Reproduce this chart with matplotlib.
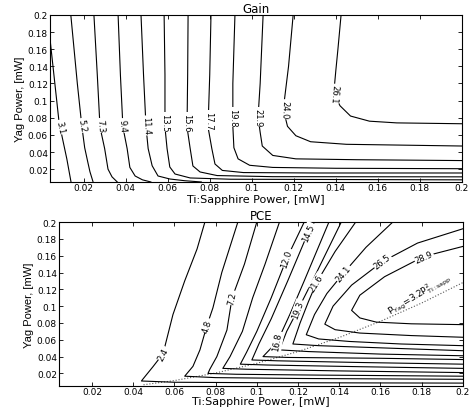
import numpy as np
import matplotlib.pyplot as plt

plt.rcParams['font.family'] = ['DejaVu Sans']

x_ticks = [0.02, 0.04, 0.06, 0.08, 0.1, 0.12, 0.14, 0.16, 0.18, 0.2]
y_ticks = [0.02, 0.04, 0.06, 0.08, 0.1, 0.12, 0.14, 0.16, 0.18, 0.2]
x_tick_labels = ['0.02', '0.04', '0.06', '0.08', '0.1', '0.12', '0.14', '0.16', '0.18', '0.2']
y_tick_labels = ['0.02', '0.04', '0.06', '0.08', '0.1', '0.12', '0.14', '0.16', '0.18', '0.2']

# Gain contour lines (x = Ti:Sapphire power, y = Yag power)
gain_levels = ['3.1', '5.2', '7.3', '9.4', '11.4', '13.5', '15.6', '17.7', '19.8', '21.9', '24.0', '26.1']
gain_x = [
    [0.004, 0.0083, 0.010, 0.012, 0.014],
    [0.0139, 0.017, 0.0192, 0.0205, 0.022, 0.023, 0.0245],
    [0.0249, 0.0265, 0.0278, 0.030, 0.0316, 0.0335, 0.036],
    [0.0364, 0.0375, 0.0387, 0.0407, 0.042, 0.0445, 0.048, 0.052],
    [0.0473, 0.0485, 0.0497, 0.0507, 0.0526, 0.0554, 0.061, 0.068, 0.076],
    [0.0583, 0.0587, 0.0587, 0.0597, 0.061, 0.0635, 0.0707, 0.09, 0.2],
    [0.0697, 0.0695, 0.0692, 0.0707, 0.072, 0.0754, 0.0835, 0.11, 0.2],
    [0.0806, 0.080, 0.0792, 0.081, 0.0825, 0.086, 0.096, 0.13, 0.2],
    [0.092, 0.091, 0.091, 0.0915, 0.0935, 0.099, 0.11, 0.14, 0.2],
    [0.1054, 0.104, 0.103, 0.104, 0.105, 0.110, 0.121, 0.15, 0.2],
    [0.1197, 0.1175, 0.115, 0.117, 0.121, 0.128, 0.145, 0.2],
    [0.1425, 0.141, 0.140, 0.139, 0.142, 0.147, 0.156, 0.169, 0.2],
]
gain_y = [
    [0.172, 0.075, 0.055, 0.032, 0.005],
    [0.2, 0.12, 0.069, 0.045, 0.028, 0.017, 0.005],
    [0.2, 0.13, 0.069, 0.044, 0.020, 0.011, 0.005],
    [0.2, 0.13, 0.069, 0.044, 0.022, 0.012, 0.0075, 0.005],
    [0.2, 0.13, 0.069, 0.044, 0.024, 0.012, 0.0085, 0.0065, 0.005],
    [0.2, 0.13, 0.069, 0.044, 0.0225, 0.0143, 0.0097, 0.0082, 0.0075],
    [0.2, 0.13, 0.069, 0.044, 0.0237, 0.0167, 0.0125, 0.0112, 0.011],
    [0.2, 0.13, 0.069, 0.044, 0.026, 0.0185, 0.016, 0.0155, 0.0155],
    [0.2, 0.12, 0.07, 0.045, 0.032, 0.0245, 0.022, 0.021, 0.0205],
    [0.2, 0.12, 0.081, 0.063, 0.047, 0.036, 0.032, 0.031, 0.030],
    [0.2, 0.140, 0.090, 0.070, 0.059, 0.052, 0.049, 0.047],
    [0.2, 0.160, 0.135, 0.108, 0.094, 0.082, 0.076, 0.074, 0.073],
]
gain_label_x = [0.0088, 0.0191, 0.0278, 0.0387, 0.0497, 0.0587, 0.0692, 0.0794, 0.091, 0.103, 0.1155, 0.1392]
gain_label_y = [0.069, 0.071, 0.071, 0.071, 0.071, 0.075, 0.075, 0.077, 0.081, 0.081, 0.090, 0.108]
gain_label_rot = [-78, -80, -85, -86, -87, -90, -90, -90, -90, -90, -92, -95]

# PCE contour lines
pce_levels = ['2.4', '4.8', '7.2', '9.6', '12.0', '14.5', '16.8', '19.3', '21.6', '24.1', '26.5', '28.9']
pce_x = [
    [0.0748, 0.071, 0.065, 0.0593, 0.0545, 0.0496, 0.0447, 0.044, 0.06, 0.1, 0.2],
    [0.0908, 0.083, 0.0787, 0.0758, 0.0724, 0.069, 0.065, 0.08, 0.12, 0.2],
    [0.100, 0.094, 0.088, 0.0855, 0.0806, 0.0772, 0.0763, 0.09, 0.13, 0.2],
    [0.111, 0.104, 0.098, 0.093, 0.087, 0.0835, 0.095, 0.14, 0.2],
    [0.123, 0.1146, 0.107, 0.100, 0.095, 0.092, 0.105, 0.15, 0.2],
    [0.128, 0.125, 0.115, 0.107, 0.101, 0.0976, 0.11, 0.15, 0.2],
    [0.135, 0.129, 0.123, 0.116, 0.110, 0.103, 0.115, 0.16, 0.2],
    [0.141, 0.134, 0.127, 0.120, 0.1145, 0.111, 0.125, 0.16, 0.2],
    [0.148, 0.138, 0.129, 0.125, 0.121, 0.1175, 0.13, 0.165, 0.2],
    [0.166, 0.153, 0.142, 0.134, 0.128, 0.124, 0.13, 0.145, 0.17, 0.2],
    [0.2, 0.178, 0.161, 0.146, 0.137, 0.133, 0.138, 0.15, 0.175, 0.2],
    [0.2, 0.181, 0.162, 0.150, 0.146, 0.150, 0.158, 0.175, 0.2],
]
pce_y = [
    [0.2, 0.168, 0.130, 0.090, 0.0435, 0.028, 0.0132, 0.011, 0.0095, 0.009, 0.0085],
    [0.2, 0.14, 0.098, 0.077, 0.048, 0.0284, 0.0167, 0.015, 0.014, 0.013],
    [0.2, 0.15, 0.110, 0.0716, 0.040, 0.025, 0.020, 0.019, 0.018, 0.0167],
    [0.2, 0.15, 0.11, 0.07, 0.04, 0.026, 0.025, 0.023, 0.021],
    [0.2, 0.157, 0.11, 0.07, 0.045, 0.031, 0.030, 0.028, 0.026],
    [0.2, 0.188, 0.13, 0.085, 0.055, 0.036, 0.035, 0.033, 0.031],
    [0.2, 0.165, 0.13, 0.09, 0.058, 0.040, 0.039, 0.038, 0.0365],
    [0.2, 0.165, 0.13, 0.096, 0.07, 0.048, 0.046, 0.043, 0.041],
    [0.2, 0.165, 0.128, 0.105, 0.08, 0.055, 0.053, 0.050, 0.047],
    [0.2, 0.17, 0.139, 0.115, 0.09, 0.066, 0.061, 0.058, 0.055, 0.053],
    [0.192, 0.175, 0.153, 0.125, 0.10, 0.0786, 0.072, 0.068, 0.065, 0.063],
    [0.171, 0.159, 0.135, 0.113, 0.095, 0.086, 0.081, 0.079, 0.078],
]
pce_label_x = [0.0545, 0.0758, 0.088, None, 0.1146, 0.125, 0.110, 0.120, 0.129, 0.142, 0.161, 0.181]
pce_label_y = [0.0435, 0.077, 0.110, None, 0.157, 0.188, 0.058, 0.096, 0.128, 0.139, 0.153, 0.159]
pce_label_rot = [62, 72, 78, 0, 72, 66, 80, 70, 58, 50, 38, 24]

# optimum line P_Yag = 3.2 P_Ti^2
opt_x = [0.045, 0.06, 0.08, 0.1, 0.12, 0.14, 0.16, 0.18, 0.2]
opt_y = [0.0065, 0.0115, 0.0205, 0.032, 0.046, 0.0627, 0.082, 0.1037, 0.128]

fig = plt.figure(figsize=(4.74, 4.10), dpi=100)
ax1 = fig.add_axes([0.1055, 0.5537, 0.869, 0.4073])
ax2 = fig.add_axes([0.1245, 0.056, 0.852, 0.400])


def style_axes(ax, title, xpad):
    ax.set_xlim(0.004, 0.2)
    ax.set_ylim(0.005, 0.2)
    ax.set_xticks(x_ticks)
    ax.set_xticklabels(x_tick_labels)
    ax.set_yticks(y_ticks)
    ax.set_yticklabels(y_tick_labels)
    ax.tick_params(direction='in', length=3, width=0.6, labelsize=6.5, pad=1.5,
                   top=True, right=True)
    ax.tick_params(axis='x', pad=1)
    for s in ax.spines.values():
        s.set_linewidth(0.8)
    ax.set_xlabel('Ti:Sapphire Power, [mW]', fontsize=8, labelpad=xpad)
    ax.set_ylabel('Yag Power, [mW]', fontsize=8,
                  family=['Liberation Sans Narrow', 'Liberation Sans'], labelpad=2)
    ax.set_title(title, fontsize=8.5, pad=2)


def draw_lines(ax, xs, ys, names, lx, ly, lr):
    for i in range(len(xs)):
        ax.plot(xs[i], ys[i], color='black', lw=0.8, zorder=2)
        if lx[i] is not None:
            ax.text(lx[i], ly[i], names[i], fontsize=6, rotation=lr[i],
                    ha='center', va='center', rotation_mode='anchor', zorder=3,
                    bbox=dict(facecolor='white', edgecolor='none', pad=0.6))


draw_lines(ax1, gain_x, gain_y, gain_levels, gain_label_x, gain_label_y, gain_label_rot)
style_axes(ax1, 'Gain', 1)

ax2.plot(opt_x, opt_y, color='#555555', lw=0.8, ls=':', zorder=2)
draw_lines(ax2, pce_x, pce_y, pce_levels, pce_label_x, pce_label_y, pce_label_rot)
ax2.text(0.179, 0.114, r'P$_{\rm Yag}$=3.2P$^2_{\rm Ti:sapp}$', fontsize=6.5, rotation=31,
         ha='center', va='center', rotation_mode='anchor')
style_axes(ax2, 'PCE', 0)

fig.savefig('out.png', dpi=100)
